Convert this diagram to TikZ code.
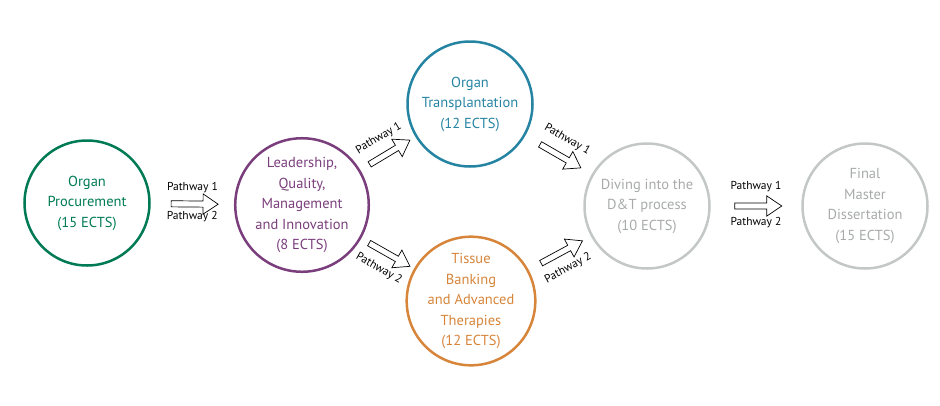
\documentclass[tikz,border=0pt]{standalone}
\usepackage{fontspec}
\setmainfont{PT Sans}
\usetikzlibrary{shapes.arrows}

\definecolor{procgreen}{RGB}{0,122,84}
\definecolor{leadpurple}{RGB}{122,62,124}
\definecolor{transblue}{RGB}{38,132,163}
\definecolor{tissueorange}{RGB}{214,133,58}
\definecolor{lightgrey}{RGB}{196,199,199}
\definecolor{textgrey}{RGB}{168,170,170}

\begin{document}
\begin{tikzpicture}[x=1pt, y=-1pt,
  course/.style={circle, line width=2.5pt, minimum size=125pt, inner sep=0pt, align=center,
    font=\fontsize{14.5}{20.5}\selectfont},
  blockarrow/.style={single arrow, draw=black, fill=white, line width=0.7pt, minimum height=47pt,
    minimum width=15pt, inner xsep=0pt, inner ysep=2.7pt, single arrow tip angle=68, sloped},
  pathlabel/.style={font=\fontsize{11.5}{13}\selectfont, inner sep=1pt, sloped}]
\useasboundingbox (0,0) rectangle (940,405);

% courses
\node[course, draw=procgreen, text=procgreen] (procurement) at (87,203) {Organ\\Procurement\\(15 ECTS)};
\node[course, draw=leadpurple, text=leadpurple] (leadership) at (302,205) {Leadership,\\Quality,\\Management\\and Innovation\\(8 ECTS)};
\node[course, draw=transblue, text=transblue] (transplant) at (470,104) {Organ\\Transplantation\\(12 ECTS)};
\node[course, draw=tissueorange, text=tissueorange] (tissue) at (471,301) {Tissue\\Banking\\and Advanced\\Therapies\\(12 ECTS)};
\node[course, draw=lightgrey, text=textgrey] (diving) at (647,206) {Diving into the\\D\&T process\\(10 ECTS)};
\node[course, draw=lightgrey, text=textgrey] (thesis) at (865,206) {Final\\Master\\Dissertation\\(15 ECTS)};

% pathways
\path (procurement) -- (leadership) node[blockarrow, midway] (arrowA) {}
  node[pathlabel, midway, above=10pt] {Pathway 1}
  node[pathlabel, midway, below=6pt] {Pathway 2};
\path (leadership) -- (transplant) node[blockarrow, midway] (arrowB) {}
  node[pathlabel, midway, above=11pt] {Pathway 1};
\path (leadership) -- (tissue) node[blockarrow, midway] (arrowC) {}
  node[pathlabel, midway, below=11pt] {Pathway 2};
\path (transplant) -- (diving) node[blockarrow, midway] (arrowD) {}
  node[pathlabel, midway, above=11pt] {Pathway 1};
\path (tissue) -- (diving) node[blockarrow, midway] (arrowE) {}
  node[pathlabel, midway, below=11pt] {Pathway 2};
\path (diving) -- (thesis) node[blockarrow, midway] (arrowF) {}
  node[pathlabel, midway, above=13pt] {Pathway 1}
  node[pathlabel, midway, below=10pt] {Pathway 2};
\end{tikzpicture}
\end{document}
